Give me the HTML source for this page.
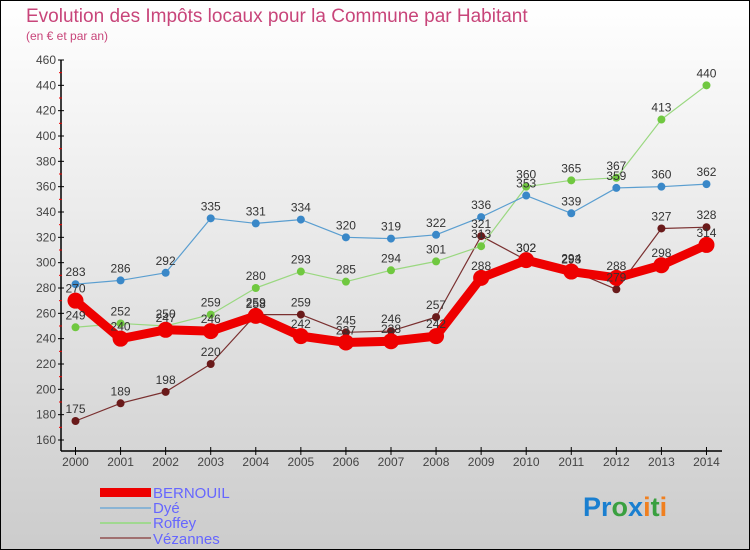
<!DOCTYPE html>
<html><head><meta charset="utf-8"><style>
body{margin:0}
svg{display:block;font-family:"Liberation Sans",sans-serif}
</style></head><body>
<svg width="750" height="550" xmlns="http://www.w3.org/2000/svg">
<defs><linearGradient id="bg" x1="0" y1="0" x2="0" y2="1"><stop offset="0" stop-color="#ffffff"/><stop offset="1" stop-color="#cccccc"/></linearGradient></defs>
<rect x="0.5" y="0.5" width="749" height="549" fill="url(#bg)" stroke="#000"/>
<text x="26" y="22" font-size="19" fill="#c8457a">Evolution des Impôts locaux pour la Commune par Habitant</text>
<text x="26" y="40" font-size="12" fill="#c8457a">(en € et par an)</text>
<g id="axes"></g>
<g id="series"></g>
<g id="labels"></g>
<g font-size="15" fill="#6666ff">
<rect x="100" y="488" width="51" height="9" fill="#e00"/>
<text x="153" y="498">BERNOUIL</text>
<line x1="100" y1="508" x2="151" y2="508" stroke="#8ab4d4" stroke-width="2"/>
<text x="153" y="513">Dyé</text>
<line x1="100" y1="523" x2="151" y2="523" stroke="#a0d890" stroke-width="2"/>
<text x="153" y="528">Roffey</text>
<line x1="100" y1="538" x2="151" y2="538" stroke="#a07070" stroke-width="2"/>
<text x="153" y="544">Vézannes</text>
</g>
<g font-size="27" font-weight="bold">
<text x="583" y="516"><tspan fill="#1a7fd0">Pr</tspan><tspan fill="#3aa040">o</tspan><tspan fill="#1a7fd0">x</tspan><tspan fill="#f08020">i</tspan><tspan fill="#3aa040">t</tspan><tspan fill="#f08020">i</tspan></text>
</g>
</svg>
<script>
const years=["2000","2001","2002","2003","2004","2005","2006","2007","2008","2009","2010","2011","2012","2013","2014"];
const yTicks=[160,180,200,220,240,260,280,300,320,340,360,380,400,420,440,460];
const bernouil=[270,240,247,246,258,242,237,238,242,288,302,293,288,298,314];
const dye=[283,286,292,335,331,334,320,319,322,336,353,339,359,360,362];
const roffey=[249,252,250,259,280,293,285,294,301,313,360,365,367,413,440];
const vezannes=[175,189,198,220,259,259,245,246,257,321,302,294,279,327,328];
const NS="http://www.w3.org/2000/svg";
const X=i=>75.5+i*45.07;
const Y=v=>440-(v-160)*380/300;
function mk(tag,attrs,parent){const e=document.createElementNS(NS,tag);for(const k in attrs)e.setAttribute(k,attrs[k]);parent.appendChild(e);return e;}
const axes=document.getElementById('axes'),ser=document.getElementById('series'),lab=document.getElementById('labels');
let a=mk('line',{x1:61,y1:60,x2:61,y2:451,stroke:'#000','stroke-width':1.5},axes);


let b=mk('line',{x1:61,y1:451,x2:722,y2:451,stroke:'#000','stroke-width':1.5},axes);


yTicks.forEach((v,i)=>{
 mk('line',{x1:58,y1:Y(v),x2:64,y2:Y(v),stroke:'#000'},axes);
 if(i<yTicks.length-1){mk('line',{x1:59,y1:Y(v+10),x2:62,y2:Y(v+10),stroke:'#e00'},axes);}
 const t=mk('text',{x:56,y:Y(v)+4,'text-anchor':'end','font-size':12,fill:'#444'},axes);
 
 
 t.textContent=v;
});
years.forEach((y,i)=>{
 mk('line',{x1:X(i),y1:447,x2:X(i),y2:455,stroke:'#000'},axes);
 const t=mk('text',{x:X(i),y:466,'text-anchor':'middle','font-size':12,fill:'#444'},axes);
 
 
 t.textContent=y;
});
function draw(data,name,color,w,r,pc){
 const p=mk('polyline',{points:data.map((v,i)=>X(i)+','+Y(v)).join(' '),fill:'none',stroke:color,'stroke-width':w,'stroke-linejoin':'round'},ser);
 
 
 data.forEach((v,i)=>{
  const c=mk('circle',{cx:X(i),cy:Y(v),r:r,fill:pc},ser);
  
  
  const t=mk('text',{x:X(i),y:Y(v)-8,'text-anchor':'middle','font-size':12,fill:'#333'},lab);
  
  
  t.textContent=v;
 });
}
draw(vezannes,'vezannes','#7a3030',1.2,4,'#6a1a1a');
draw(roffey,'roffey','#9ad880',1.2,4,'#70c840');
draw(dye,'dye','#5a9ed0',1.2,4,'#3a88c8');
draw(bernouil,'bernouil','#ee0000',9,8,'#ee0000');
</script>
</body></html>
